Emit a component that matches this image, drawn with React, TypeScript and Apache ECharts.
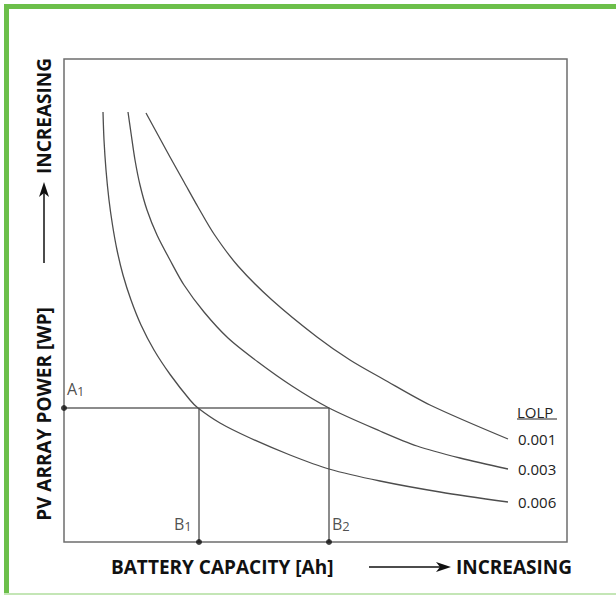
import React, { useEffect, useRef } from "react";
import * as echarts from "echarts";

// Curves (battery capacity, PV array power) in arbitrary units
const lolp001: number[][] = [
  [82, 429], [94, 407], [106, 385], [120, 360], [134, 335], [150, 308], [174, 276],
  [208, 242], [253, 205], [286, 182], [319, 163], [366, 137], [444, 103],
];
const lolp003: number[][] = [
  [64, 430], [67, 409], [71, 382], [76, 357], [83, 332], [93, 307], [106, 282],
  [120, 257], [140, 230], [164, 204], [194, 180], [228, 156], [265, 134], [316, 111],
  [353, 96], [396, 84], [444, 73],
];
const lolp006: number[][] = [
  [39, 430], [40, 402], [42, 372], [45, 342], [48.5, 317], [53, 292], [59, 267],
  [67, 242], [77, 217], [90, 192], [106.5, 167], [126, 142], [134, 134], [156, 119],
  [186, 104], [226, 87], [265, 73], [316, 61], [376, 50], [444, 40],
];
const seriesNames = ["0.001", "0.003", "0.006"];
const pointA1 = 134; // PV power level
const pointB1 = 135; // battery capacity B1
const pointB2 = 265; // battery capacity B2
const xMax = 503;
const yMax = 483;

export default function App() {
  const ref = useRef<HTMLDivElement>(null);
  useEffect(() => {
    if (!ref.current) return;
    const chart = echarts.init(ref.current, null, { renderer: "svg" });
    const curveColor = "#4d4d4d";
    const guideColor = "#666666";
    const font = "'Open Sans', sans-serif";
    const mkCurve = (name: string, data: number[][]) => ({
      type: "line",
      name,
      data,
      smooth: 0.3,
      showSymbol: false,
      symbol: "none",
      lineStyle: { color: curveColor, width: 1.3 },
      endLabel: {
        show: true,
        formatter: name,
        distance: 10,
        fontFamily: font,
        fontSize: 15,
        color: "#222",
      },
      silent: true,
      z: 3,
    });
    const mkPoint = (value: number[], main: string, sub: string, position: number[]) => ({
      type: "scatter",
      symbolSize: 6,
      itemStyle: { color: "#111" },
      clip: false,
      silent: true,
      z: 5,
      data: [value],
      label: {
        show: true,
        position,
        fontFamily: font,
        fontSize: 16,
        color: "#222",
        formatter: `{m|${main}}{s|${sub}}`,
        rich: {
          m: { fontFamily: font, fontSize: 16, color: "#222" },
          s: { fontFamily: font, fontSize: 13, color: "#222", padding: [4, 0, 0, 0] },
        },
      },
    });
    chart.setOption({
      animation: false,
      grid: {
        left: 64,
        top: 59,
        right: 49,
        bottom: 54,
        show: true,
        borderColor: "#6e6e6e",
        borderWidth: 1.5,
        backgroundColor: "transparent",
      },
      xAxis: {
        type: "value",
        min: 0,
        max: xMax,
        axisLine: { show: false },
        axisTick: { show: false },
        axisLabel: { show: false },
        splitLine: { show: false },
      },
      yAxis: {
        type: "value",
        min: 0,
        max: yMax,
        axisLine: { show: false },
        axisTick: { show: false },
        axisLabel: { show: false },
        splitLine: { show: false },
      },
      series: [
        mkCurve(seriesNames[0], lolp001),
        mkCurve(seriesNames[1], lolp003),
        mkCurve(seriesNames[2], lolp006),
        {
          type: "line",
          data: [[0, pointA1], [pointB2, pointA1], [pointB2, 0]],
          showSymbol: false,
          symbol: "none",
          lineStyle: { color: guideColor, width: 1.5 },
          silent: true,
          z: 2,
        },
        {
          type: "line",
          data: [[pointB1, pointA1], [pointB1, 0]],
          showSymbol: false,
          symbol: "none",
          lineStyle: { color: guideColor, width: 1.5 },
          silent: true,
          z: 2,
        },
        mkPoint([0, pointA1], "A", "1", [6, -25]),
        mkPoint([pointB1, 0], "B", "1", [-22, -24]),
        mkPoint([pointB2, 0], "B", "2", [6, -24]),
      ],
      graphic: [
        // green frame
        { type: "line", shape: { x1: 4, y1: 6.5, x2: 616, y2: 6.5 }, style: { stroke: "#6cbf4a", lineWidth: 5 } },
        { type: "line", shape: { x1: 6.5, y1: 4, x2: 6.5, y2: 594 }, style: { stroke: "#6cbf4a", lineWidth: 5 } },
        { type: "line", shape: { x1: 4, y1: 594, x2: 616, y2: 594 }, style: { stroke: "#c4e6b6", lineWidth: 2 } },
        // LOLP title
        {
          type: "text",
          x: 517,
          y: 412,
          style: { text: "LOLP", fontFamily: font, fontSize: 15, fill: "#222", verticalAlign: "middle", align: "left" },
        },
        { type: "line", shape: { x1: 517, y1: 419, x2: 557, y2: 419 }, style: { stroke: "#222", lineWidth: 1.2 } },
        // x axis title
        {
          type: "text",
          x: 111,
          y: 567,
          style: {
            text: "BATTERY CAPACITY [Ah]",
            fontFamily: font,
            fontWeight: "bold",
            fontSize: 19,
            fill: "#111",
            verticalAlign: "middle",
            align: "left",
          },
        },
        {
          type: "text",
          x: 572,
          y: 567,
          style: {
            text: "INCREASING",
            fontFamily: font,
            fontWeight: "bold",
            fontSize: 19,
            fill: "#111",
            verticalAlign: "middle",
            align: "right",
          },
        },
        { type: "line", shape: { x1: 369, y1: 567, x2: 440, y2: 567 }, style: { stroke: "#111", lineWidth: 1.5 } },
        { type: "polygon", shape: { points: [[451, 567], [436, 562], [440, 567], [436, 572]] }, style: { fill: "#111" } },
        // y axis title
        {
          type: "text",
          x: 44,
          y: 414,
          rotation: Math.PI / 2,
          style: {
            text: "PV ARRAY POWER [WP]",
            fontFamily: font,
            fontWeight: "bold",
            fontSize: 19,
            fill: "#111",
            verticalAlign: "middle",
            align: "center",
          },
        },
        {
          type: "text",
          x: 44,
          y: 58,
          rotation: Math.PI / 2,
          style: {
            text: "INCREASING",
            fontFamily: font,
            fontWeight: "bold",
            fontSize: 19,
            fill: "#111",
            verticalAlign: "middle",
            align: "right",
          },
        },
        { type: "line", shape: { x1: 44, y1: 263, x2: 44, y2: 193 }, style: { stroke: "#111", lineWidth: 1.5 } },
        { type: "polygon", shape: { points: [[44, 182], [39, 197], [44, 193], [49, 197]] }, style: { fill: "#111" } },
      ],
    });
    return () => chart.dispose();
  }, []);
  return (
    <div
      ref={ref}
      style={{ position: "fixed", left: 0, top: 0, width: 616, height: 596, background: "#fff" }}
    />
  );
}
